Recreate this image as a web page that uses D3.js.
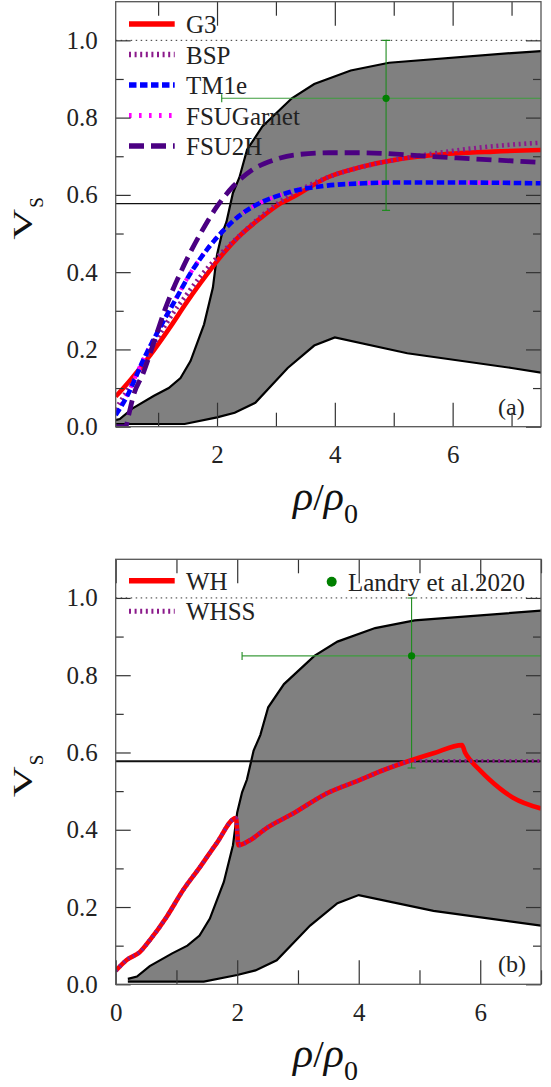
<!DOCTYPE html>
<html>
<head>
<meta charset="utf-8">
<script src="https://cdn.jsdelivr.net/npm/d3@7"></script>
<style>
  body { margin: 0; background: #fff; }
  svg { display: block; font-family: "Liberation Serif", "DejaVu Serif", serif; }
  svg text { font-family: "Liberation Serif", "DejaVu Serif", serif; }
</style>
</head>
<body>
<div id="chart"></div>
<script>
// shaded constraint band (same in both panels)
var upperRho = [0.2, 0.35, 0.56, 0.93, 1.18, 1.38, 1.55, 1.78, 1.93, 2.0, 2.08, 2.16, 2.27, 2.38, 2.51, 2.77, 3.27, 3.65, 4.27, 4.92, 7.0, 7.5];
var upperVs  = [0.014, 0.02, 0.047, 0.08, 0.1, 0.126, 0.17, 0.265, 0.36, 0.445, 0.497, 0.53, 0.605, 0.645, 0.717, 0.777, 0.85, 0.887, 0.922, 0.942, 0.967, 0.972];
var lowerRho = [0.2, 1.45, 2.0, 2.3, 2.65, 3.2, 3.65, 4.0, 5.23, 7.0, 7.5];
var lowerVs  = [0.007, 0.007, 0.024, 0.036, 0.062, 0.152, 0.21, 0.231, 0.19, 0.152, 0.14];

// Landry et al. 2020 point
var landryRho = 4.87, landryRhoLo = 2.08, landryRhoHi = 8.5;
var landryVs = 0.85, landryVsLo = 0.56, landryVsHi = 1.0;

var causalVs = 1.0;
var conformalVs = 1 / Math.sqrt(3);

// panel (a)
var g3Rho = [0.28, 0.53, 0.87, 1.21, 1.49, 1.72, 2.06, 2.37, 2.74, 3.08, 3.3, 3.87, 4.44, 5.0, 5.68, 6.7, 7.5];
var g3Vs  = [0.078, 0.121, 0.186, 0.259, 0.323, 0.372, 0.44, 0.492, 0.54, 0.578, 0.595, 0.645, 0.672, 0.69, 0.703, 0.712, 0.716];
var bspRho = [0.28, 0.5, 0.75, 1.0, 1.25, 1.5, 1.75, 2.0, 2.4, 2.75, 3.0, 3.5, 4.0, 4.5, 5.0, 5.5, 6.0, 6.5, 7.0, 7.5];
var bspVs  = [0.045, 0.1, 0.165, 0.232, 0.293, 0.345, 0.395, 0.438, 0.497, 0.545, 0.575, 0.62, 0.652, 0.674, 0.69, 0.703, 0.714, 0.723, 0.73, 0.735];
var tm1eRho = [0.28, 0.47, 0.75, 1.04, 1.26, 1.55, 1.89, 2.11, 2.37, 2.74, 3.08, 3.3, 3.87, 4.5, 5.0, 6.0, 7.5];
var tm1eVs  = [0.03, 0.078, 0.173, 0.259, 0.319, 0.397, 0.47, 0.508, 0.545, 0.58, 0.6, 0.61, 0.624, 0.63, 0.632, 0.632, 0.63];
var fsugRho = [0.28, 0.47, 0.75, 1.04, 1.26, 1.55, 1.89, 2.11, 2.37, 2.74, 3.08, 3.3, 3.87, 4.5, 5.0, 6.0, 7.5];
var fsugVs  = [0.034, 0.082, 0.175, 0.26, 0.32, 0.398, 0.471, 0.509, 0.546, 0.58, 0.6, 0.611, 0.625, 0.631, 0.632, 0.632, 0.631];
var fsu2hRho = [0.28, 0.45, 0.5, 0.58, 0.75, 0.92, 1.12, 1.43, 1.72, 2.0, 2.28, 2.6, 2.96, 3.3, 3.9, 4.44, 5.57, 6.5, 7.5];
var fsu2hVs  = [0.0, 0.0, 0.03, 0.08, 0.14, 0.215, 0.305, 0.415, 0.5, 0.57, 0.623, 0.665, 0.69, 0.703, 0.709, 0.709, 0.70, 0.692, 0.684];

// panel (b)
var whRho = [0, 0.18, 0.4, 0.565, 0.84, 1.11, 1.39, 1.66, 1.98, 2.02, 2.21, 2.49, 2.92, 3.47, 4.02, 4.4, 4.79, 5.23, 5.7, 5.75, 5.85, 6.0, 6.15, 6.54, 7.0];
var whVs  = [0.035, 0.063, 0.084, 0.115, 0.175, 0.244, 0.304, 0.365, 0.43, 0.36, 0.373, 0.405, 0.442, 0.494, 0.529, 0.554, 0.576, 0.598, 0.619, 0.6, 0.578, 0.553, 0.53, 0.483, 0.455];
var whssRho = [0, 0.18, 0.4, 0.565, 0.84, 1.11, 1.39, 1.66, 1.98, 2.02, 2.21, 2.49, 2.92, 3.47, 4.02, 4.4, 4.75, 4.85, 7.0];
var whssVs  = [0.035, 0.063, 0.084, 0.115, 0.175, 0.244, 0.304, 0.365, 0.43, 0.36, 0.373, 0.405, 0.442, 0.494, 0.529, 0.554, 0.574, 0.578, 0.578];

var yMajor = [0, 0.2, 0.4, 0.6, 0.8, 1.0];
var yMinor = [0.1, 0.3, 0.5, 0.7, 0.9];

var serif = '"Liberation Serif", "DejaVu Serif", serif';

var svg = d3.select('#chart').append('svg')
  .attr('width', 551)
  .attr('height', 1087);

var zip = function(xs, ys) {
  return xs.map(function(x, i) { return [x, ys[i]]; });
};

var drawPanel = function(p) {
  var x = d3.scaleLinear().domain(p.xDomain).range([115.7, 541]);
  var y = d3.scaleLinear().domain([0, 1.1]).range([p.bottom, p.top]);
  var g = svg.append('g');

  var clipId = 'clip' + p.name;
  g.append('clipPath').attr('id', clipId).append('rect')
    .attr('x', 115.7).attr('y', p.top)
    .attr('width', 541 - 115.7).attr('height', p.bottom - p.top);
  var plot = g.append('g').attr('clip-path', 'url(#' + clipId + ')');

  // band
  var up = zip(upperRho, upperVs), lo = zip(lowerRho, lowerVs);
  var line = d3.line().x(function(d) { return x(d[0]); }).y(function(d) { return y(d[1]); });
  plot.append('path')
    .attr('d', line(up.concat(lo.slice().reverse())))
    .attr('fill', '#808080');
  plot.append('path').attr('d', line(up)).attr('fill', 'none').attr('stroke', '#000').attr('stroke-width', 2.2);
  plot.append('path').attr('d', line(lo)).attr('fill', 'none').attr('stroke', '#000').attr('stroke-width', 2.2);

  // reference lines
  plot.append('line')
    .attr('x1', x.range()[0]).attr('x2', x.range()[1])
    .attr('y1', y(causalVs)).attr('y2', y(causalVs))
    .attr('stroke', '#333').attr('stroke-width', 1).attr('stroke-dasharray', '1.5,3.5');
  plot.append('line')
    .attr('x1', x.range()[0]).attr('x2', x.range()[1])
    .attr('y1', y(conformalVs)).attr('y2', y(conformalVs))
    .attr('stroke', '#111').attr('stroke-width', p.conformalWidth);

  // Landry et al. error bars
  var eb = plot.append('g').attr('stroke', '#1f8a1f').attr('stroke-width', 1.1);
  eb.append('line').attr('x1', x(landryRhoLo)).attr('x2', x(landryRhoHi))
    .attr('y1', y(landryVs)).attr('y2', y(landryVs)).attr('stroke', '#3c9c3c');
  eb.append('line').attr('x1', x(landryRhoLo)).attr('x2', x(landryRhoLo))
    .attr('y1', y(landryVs) - 4).attr('y2', y(landryVs) + 4);
  eb.append('line').attr('x1', x(landryRho)).attr('x2', x(landryRho))
    .attr('y1', y(landryVsLo)).attr('y2', y(landryVsHi));
  [landryVsLo, landryVsHi].forEach(function(v) {
    eb.append('line').attr('x1', x(landryRho) - 4).attr('x2', x(landryRho) + 4)
      .attr('y1', y(v)).attr('y2', y(v));
  });
  plot.append('circle').attr('cx', x(landryRho)).attr('cy', y(landryVs))
    .attr('r', 3.6).attr('fill', 'green');

  // model curves
  var curve = d3.line().curve(d3.curveMonotoneX)
    .x(function(d) { return x(d[0]); }).y(function(d) { return y(d[1]); });
  p.series.forEach(function(s) {
    plot.append('path')
      .attr('d', curve(zip(s.rho, s.vs)))
      .attr('fill', 'none')
      .attr('stroke', s.color)
      .attr('stroke-width', s.width)
      .attr('stroke-dasharray', s.dash || null);
  });

  // legend
  p.legend.forEach(function(s, i) {
    var ly = p.legendY + i * 30.5;
    g.append('line').attr('x1', 129).attr('x2', 174.7).attr('y1', ly).attr('y2', ly)
      .attr('stroke', s.color).attr('stroke-width', s.width + 0.8)
      .attr('stroke-dasharray', s.dash || null);
    g.append('text').attr('x', 186).attr('y', ly + 9)
      .style('font-family', serif)
      .attr('font-size', 25).attr('fill', '#222').text(s.name);
  });
  if (p.landryLegend) {
    g.append('circle').attr('cx', 331.7).attr('cy', p.legendY + 1).attr('r', 5).attr('fill', 'green');
    g.append('text').attr('x', 348).attr('y', p.legendY + 10)
      .style('font-family', serif)
      .attr('font-size', 25).attr('fill', '#222').text('Landry et al.2020');
  }

  // axes
  var fmt = d3.format('.1f');
  var ax = function(gen, tx, ty) {
    var a = g.append('g').attr('transform', 'translate(' + tx + ',' + ty + ')').call(gen);
    a.attr('font-family', null).attr('font-size', null);
    a.select('.domain').remove();
    a.selectAll('line').attr('stroke', '#333').attr('stroke-width', 1.2);
    a.selectAll('text').style('font-family', serif)
      .style('font-size', '25px').attr('fill', '#222');
    return a;
  };
  ax(d3.axisBottom(x).tickValues(p.xMajor).tickSize(-24).tickPadding(19).tickFormat(d3.format('d')), 0, p.bottom);
  ax(d3.axisBottom(x).tickValues(p.xMinor).tickSize(-14).tickFormat(''), 0, p.bottom);
  ax(d3.axisTop(x).tickValues(p.xMajor).tickSize(-24).tickFormat(''), 0, p.top);
  ax(d3.axisTop(x).tickValues(p.xMinor).tickSize(-14).tickFormat(''), 0, p.top);
  ax(d3.axisLeft(y).tickValues(yMajor).tickSize(-15).tickPadding(18).tickFormat(fmt), 115.7, 0);
  ax(d3.axisLeft(y).tickValues(yMinor).tickSize(-8).tickFormat(''), 115.7, 0);
  ax(d3.axisRight(y).tickValues(yMajor).tickSize(-15).tickFormat(''), 541, 0);
  ax(d3.axisRight(y).tickValues(yMinor).tickSize(-8).tickFormat(''), 541, 0);

  // frame
  g.append('rect').attr('x', 115.7).attr('y', p.top)
    .attr('width', 541 - 115.7).attr('height', p.bottom - p.top)
    .attr('fill', 'none').attr('stroke', '#555').attr('stroke-width', 1.3);

  // panel tag
  g.append('text').attr('x', 498).attr('y', p.bottom - 12)
    .style('font-family', serif)
    .attr('font-size', 24).attr('fill', '#222').text(p.tag);

  // y label
  var yl = g.append('g').attr('transform', 'translate(32,' + (p.top + 238) + ') rotate(-90)');
  yl.append('text').attr('x', 0).attr('y', 0).attr('font-size', 27)
    .style('font-family', serif)
    .attr('textLength', 31).attr('lengthAdjust', 'spacingAndGlyphs').attr('fill', '#111').text('V');
  yl.append('text').attr('x', 32).attr('y', 11).attr('font-size', 19)
    .style('font-family', serif).attr('fill', '#111').text('S');

  // x label
  var xl = g.append('text').attr('x', 293).attr('y', p.bottom + 83)
    .style('font-family', serif).attr('fill', '#111').attr('font-size', 42);
  xl.append('tspan').attr('font-style', 'italic').text('ρ');
  xl.append('tspan').attr('font-size', 38).text('/');
  xl.append('tspan').attr('font-style', 'italic').text('ρ');
  xl.append('tspan').attr('font-size', 28).attr('dy', 13).text('0');
};

drawPanel({
  name: 'a', top: 1.7, bottom: 426.7, xDomain: [0.28, 7.5],
  xMajor: [2, 4, 6], xMinor: [1, 3, 5, 7], conformalWidth: 1.1, tag: '(a)',
  legendY: 24,
  series: [
    { name: 'G3', rho: g3Rho, vs: g3Vs, color: '#ff0000', width: 4.6 },
    { name: 'BSP', rho: bspRho, vs: bspVs, color: '#8b1a8b', width: 4.6, dash: '2,3.6' },
    { name: 'FSUGarnet', rho: fsugRho, vs: fsugVs, color: '#ff00ff', width: 4.2, dash: '2.6,7.4' },
    { name: 'TM1e', rho: tm1eRho, vs: tm1eVs, color: '#0000ff', width: 4.6, dash: '7.5,3.5' },
    { name: 'FSU2H', rho: fsu2hRho, vs: fsu2hVs, color: '#4b0082', width: 4.8, dash: '15,7' }
  ],
  legend: [
    { name: 'G3', color: '#ff0000', width: 4.6 },
    { name: 'BSP', color: '#8b1a8b', width: 4.6, dash: '2,3.6' },
    { name: 'TM1e', color: '#0000ff', width: 4.6, dash: '7.5,3.5' },
    { name: 'FSUGarnet', color: '#ff00ff', width: 4.2, dash: '2.6,7.4' },
    { name: 'FSU2H', color: '#4b0082', width: 4.8, dash: '15,7' }
  ]
});

drawPanel({
  name: 'b', top: 559.3, bottom: 984.3, xDomain: [0, 7],
  xMajor: [0, 2, 4, 6], xMinor: [1, 3, 5, 7], conformalWidth: 2.2, tag: '(b)',
  legendY: 580.7, landryLegend: true,
  series: [
    { name: 'WH', rho: whRho, vs: whVs, color: '#ff0000', width: 4.6 },
    { name: 'WHSS', rho: whssRho, vs: whssVs, color: '#8b1a8b', width: 4.2, dash: '2,3.6' }
  ],
  legend: [
    { name: 'WH', color: '#ff0000', width: 4.6 },
    { name: 'WHSS', color: '#8b1a8b', width: 4.2, dash: '2,3.6' }
  ]
});
</script>
</body>
</html>
